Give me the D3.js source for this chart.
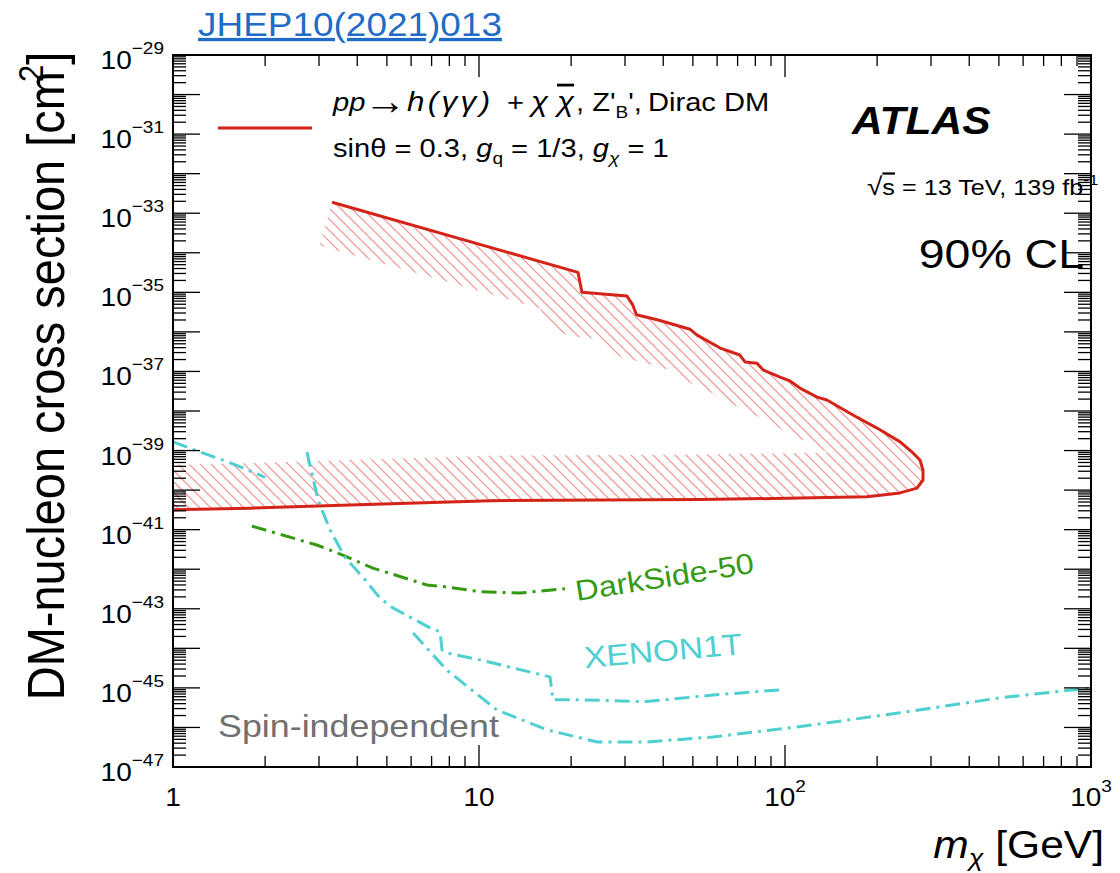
<!DOCTYPE html>
<html><head><meta charset="utf-8">
<script src="https://cdn.jsdelivr.net/npm/d3@7"></script>
<style>
body{margin:0;background:#fff}
svg{display:block}
text{font-family:"Liberation Sans",Arial,Helvetica,sans-serif}
</style>
</head><body>
<svg id="chart" width="1120" height="873"></svg>
<script>
// ---------------- DATA ----------------
// ATLAS h(γγ)+χχ̄ exclusion contour (m_χ in GeV, σ in cm²), upper branch -> tip -> lower branch
const atlasMass = [3.31, 21.06, 21.7, 30.4, 31.8, 32.7, 38.5, 48.9, 51.6, 61.4, 71.2, 74.0, 81.0, 84.7, 96.3, 103.8, 111.9, 127.3, 137.1, 166.7, 199.9, 237.7, 262, 276, 282.5, 282.5, 270, 237.7, 185.3, 111.9, 52.8, 24.9, 10.9, 3.79, 1.78, 1.0];
const atlasXsec = [1.9e-33, 3.2e-35, 1.0e-35, 8.1e-36, 4.8e-36, 2.7e-36, 2.0e-36, 1.17e-36, 8.3e-37, 3.9e-37, 2.6e-37, 1.74e-37, 1.62e-37, 1.1e-37, 7.2e-38, 5.75e-38, 3.8e-38, 2.24e-38, 1.9e-38, 7.9e-39, 3.7e-39, 1.66e-39, 8.7e-40, 5.75e-40, 3.2e-40, 1.8e-40, 1.12e-40, 8.5e-41, 6.8e-41, 6.3e-41, 5.75e-41, 5.6e-41, 5.4e-41, 4.2e-41, 3.5e-41, 3.2e-41];

// DarkSide-50
const darksideMass = [1.81, 2.95, 3.57, 4.50, 6.76, 7.86, 10.07, 13.6, 19.1];
const darksideXsec = [1.23e-41, 4.1e-42, 2.3e-42, 1.07e-42, 4.0e-43, 3.55e-43, 2.7e-43, 2.5e-43, 3.2e-43];

// XENON1T (three curves)
const xenonAMass = [1.0, 1.23, 1.54, 2.0];
const xenonAXsec = [1.66e-39, 9.1e-40, 4.9e-40, 2.1e-40];
const xenonBMass = [2.74, 2.98, 3.26, 3.65, 4.24, 4.75, 5.23, 6.92, 7.46, 7.57, 7.86, 10.07, 17.06, 17.46, 21.4, 35.4, 58.2, 96.3];
const xenonBXsec = [9.1e-40, 5.6e-41, 9.8e-42, 2.0e-42, 5.4e-43, 1.86e-43, 1.05e-43, 3.3e-44, 2.6e-44, 9.1e-45, 7.6e-45, 5.1e-45, 1.9e-45, 5.0e-46, 5.0e-46, 4.5e-46, 6.6e-46, 8.9e-46];
const xenonCMass = [6.09, 7.86, 11.45, 16.7, 24.3, 35.4, 58.2, 108.7, 237.7, 504, 1000];
const xenonCXsec = [2.45e-44, 2.8e-45, 2.75e-46, 8.7e-47, 4.3e-47, 4.3e-47, 5.75e-47, 1.02e-46, 2.34e-46, 5.6e-46, 1.0e-45];

// Axes
const xDomain = [1, 1000];
const yDomain = [1e-47, 1e-29];
const xTickValues = [1, 10, 100, 1000];
const xTickBase = ["1", "10", "10", "10"];
const xTickExp = ["", "", "2", "3"];
const yLabelExponents = [-29, -31, -33, -35, -37, -39, -41, -43, -45, -47];

// ---------------- LAYOUT ----------------
const X0 = 173, X1 = 1091, Y0 = 55, Y1 = 767;
const SX = 1.12; // horizontal stretch of text as in the reference
const x = d3.scaleLog().domain(xDomain).range([X0, X1]);
const y = d3.scaleLog().domain(yDomain).range([Y1, Y0]);

const RED = "#d42318", GREEN = "#339a12", CYAN = "#4fcfd0", HATCH = "#ef8f8c";
const svg = d3.select("#chart");
const defs = svg.append("defs");

defs.append("clipPath").attr("id", "plotclip")
  .append("rect").attr("x", X0).attr("y", Y0).attr("width", X1 - X0).attr("height", Y1 - Y0);

const pat = defs.append("pattern").attr("id", "hatch").attr("patternUnits", "userSpaceOnUse")
  .attr("width", 11).attr("height", 11);
pat.append("path").attr("d", "M-1,-1 L12,12 M-1,10 L1,12 M10,-1 L12,1")
  .attr("stroke", HATCH).attr("stroke-width", 1.2).attr("fill", "none");

const atlasPts = atlasMass.map((m, i) => [m, atlasXsec[i]]);
const lineGen = d3.line().x(d => x(d[0])).y(d => y(d[1]));

// closed region for the hatch (interior side)
const regionPts = atlasPts.concat([[atlasMass[atlasMass.length - 1], atlasXsec[0]]]);
defs.append("clipPath").attr("id", "regionclip")
  .append("path").attr("d", lineGen(regionPts) + "Z");

const mask = defs.append("mask").attr("id", "bandmask").attr("maskUnits", "userSpaceOnUse")
  .attr("x", 0).attr("y", 0).attr("width", 1120).attr("height", 873);
mask.append("rect").attr("x", 0).attr("y", 0).attr("width", 1120).attr("height", 873).attr("fill", "black");
mask.append("path").attr("d", lineGen(atlasPts)).attr("fill", "none").attr("stroke", "white")
  .attr("stroke-width", 90).attr("stroke-linejoin", "round");

// ---------------- PLOT CONTENT ----------------
const plot = svg.append("g").attr("clip-path", "url(#plotclip)");
plot.append("g").attr("clip-path", "url(#regionclip)")
  .append("rect").attr("x", X0).attr("y", Y0).attr("width", X1 - X0).attr("height", Y1 - Y0)
  .attr("fill", "url(#hatch)").attr("mask", "url(#bandmask)");

function series(ms, vs, color, dash) {
  plot.append("path").attr("d", lineGen(ms.map((m, i) => [m, vs[i]])))
    .attr("fill", "none").attr("stroke", color).attr("stroke-width", 3)
    .attr("stroke-dasharray", dash || null).attr("stroke-linejoin", "round");
}
const DD = "15,6,3,6";
series(darksideMass, darksideXsec, GREEN, DD);
series(xenonAMass, xenonAXsec, CYAN, DD);
series(xenonBMass, xenonBXsec, CYAN, DD);
series(xenonCMass, xenonCXsec, CYAN, DD);
series(atlasMass, atlasXsec, RED, null);

// ---------------- AXES / TICKS ----------------
const axg = svg.append("g").attr("stroke", "#000").attr("stroke-width", 1.3);
for (let e = -47; e <= -29; e++) {
  const v = Math.pow(10, e);
  const yy = y(v);
  axg.append("line").attr("x1", X0).attr("x2", X0 + 27).attr("y1", yy).attr("y2", yy);
  axg.append("line").attr("x1", X1).attr("x2", X1 - 27).attr("y1", yy).attr("y2", yy);
  if (e < -29) {
    for (let k = 2; k <= 9; k++) {
      const ym = y(k * v);
      axg.append("line").attr("x1", X0).attr("x2", X0 + 13).attr("y1", ym).attr("y2", ym);
      axg.append("line").attr("x1", X1).attr("x2", X1 - 13).attr("y1", ym).attr("y2", ym);
    }
  }
}
for (let e = 0; e <= 3; e++) {
  const v = Math.pow(10, e);
  const xx = x(v);
  axg.append("line").attr("x1", xx).attr("x2", xx).attr("y1", Y1).attr("y2", Y1 - 22);
  axg.append("line").attr("x1", xx).attr("x2", xx).attr("y1", Y0).attr("y2", Y0 + 22);
  if (e < 3) {
    for (let k = 2; k <= 9; k++) {
      const xm = x(k * v);
      axg.append("line").attr("x1", xm).attr("x2", xm).attr("y1", Y1).attr("y2", Y1 - 11);
      axg.append("line").attr("x1", xm).attr("x2", xm).attr("y1", Y0).attr("y2", Y0 + 11);
    }
  }
}
svg.append("rect").attr("x", X0).attr("y", Y0).attr("width", X1 - X0).attr("height", Y1 - Y0)
  .attr("fill", "none").attr("stroke", "#000").attr("stroke-width", 2);

function txt(px, py, size, anchor, extra) {
  return svg.append("text")
    .attr("transform", `translate(${px},${py}) ${extra || ""} scale(${SX},1)`)
    .attr("font-size", size).attr("text-anchor", anchor || "start").attr("fill", "#000");
}

// y tick labels
yLabelExponents.forEach(e => {
  const t = txt(164, y(Math.pow(10, e)) + 14, 25, "end");
  t.append("tspan").text("10");
  t.append("tspan").attr("font-size", 17).attr("dy", -15).text("\u2212" + Math.abs(e));
});
// x tick labels
xTickValues.forEach((v, i) => {
  const t = txt(x(v), 806, 25, "middle");
  t.append("tspan").text(xTickBase[i]);
  if (xTickExp[i]) t.append("tspan").attr("font-size", 17).attr("dy", -14).text(xTickExp[i]);
});

// axis titles
{
  const t = txt(1104, 858, 38, "end");
  t.append("tspan").attr("font-style", "italic").text("m");
  t.append("tspan").attr("font-style", "italic").attr("font-size", 24).attr("dy", 8).text("\u03c7");
  t.append("tspan").attr("dy", -8).text(" [GeV]");
}
{
  const t = svg.append("text")
    .attr("transform", `translate(64,376) rotate(-90) scale(1,${SX})`)
    .attr("font-size", 47).attr("text-anchor", "middle").attr("fill", "#000");
  t.append("tspan").text("DM-nucleon cross section [cm");
  t.append("tspan").attr("font-size", 31).attr("dy", -19).attr("dx", -11).text("2");
  t.append("tspan").attr("dy", 19).text("]");
}

// header link
txt(350, 36, 33, "middle").attr("fill", "#1f6cc6").style("text-decoration", "underline").text("JHEP10(2021)013");

// legend
svg.append("line").attr("x1", 218).attr("x2", 312).attr("y1", 128).attr("y2", 128)
  .attr("stroke", RED).attr("stroke-width", 3);
{
  const L = 333, u = px => (px - L) / SX;
  const t = txt(L, 111, 26, "start");
  t.append("tspan").attr("x", u(333)).attr("font-style", "italic").text("pp");
  t.append("tspan").attr("x", u(364)).attr("dy", 3).attr("font-size", 38).text("\u2192");
  t.append("tspan").attr("x", u(407)).attr("dy", -3).attr("font-style", "italic").attr("font-size", 28)
    .attr("letter-spacing", 3).text("h(\u03b3\u03b3)");
  t.append("tspan").attr("x", u(507)).text("+");
  t.append("tspan").attr("x", u(531)).attr("font-style", "italic").attr("font-size", 28).text("\u03c7");
  t.append("tspan").attr("x", u(557)).attr("font-style", "italic").attr("font-size", 28).style("text-decoration", "overline").text("\u03c7");
  t.append("tspan").attr("x", u(576)).text(", Z'");
  t.append("tspan").attr("font-size", 17).attr("dy", 7).text("B");
  t.append("tspan").attr("dy", -7).text("',");
  t.append("tspan").attr("x", u(648)).text("Dirac DM");
}
{
  const t = txt(333, 157, 26, "start");
  t.append("tspan").text("sin\u03b8 = 0.3, ");
  t.append("tspan").attr("font-style", "italic").text("g");
  t.append("tspan").attr("font-size", 17).attr("dy", 7).text("q");
  t.append("tspan").attr("dy", -7).text(" = 1/3, ");
  t.append("tspan").attr("font-style", "italic").text("g");
  t.append("tspan").attr("font-size", 17).attr("dy", 7).attr("font-style", "italic").text("\u03c7");
  t.append("tspan").attr("dy", -7).text(" = 1");
}

// ATLAS labels
txt(852, 134, 38, "start").attr("font-weight", "bold").attr("font-style", "italic").text("ATLAS");
{
  const t = txt(867, 195, 22.5, "start");
  t.append("tspan").attr("font-size", 25).text("\u221a");
  t.append("tspan").style("text-decoration", "overline").text("s");
  t.append("tspan").text(" = 13 TeV, 139 fb");
  t.append("tspan").attr("font-size", 15).attr("dy", -10).text("-1");
}
txt(1084, 268, 41.5, "end").text("90% CL");

// curve labels
txt(577, 601, 29, "start", "rotate(-9)").attr("fill", GREEN).text("DarkSide-50");
txt(585, 668, 30, "start", "rotate(-5)").attr("fill", CYAN).text("XENON1T");
txt(218, 737, 32, "start").attr("fill", "#707070").text("Spin-independent");
</script>
</body></html>
